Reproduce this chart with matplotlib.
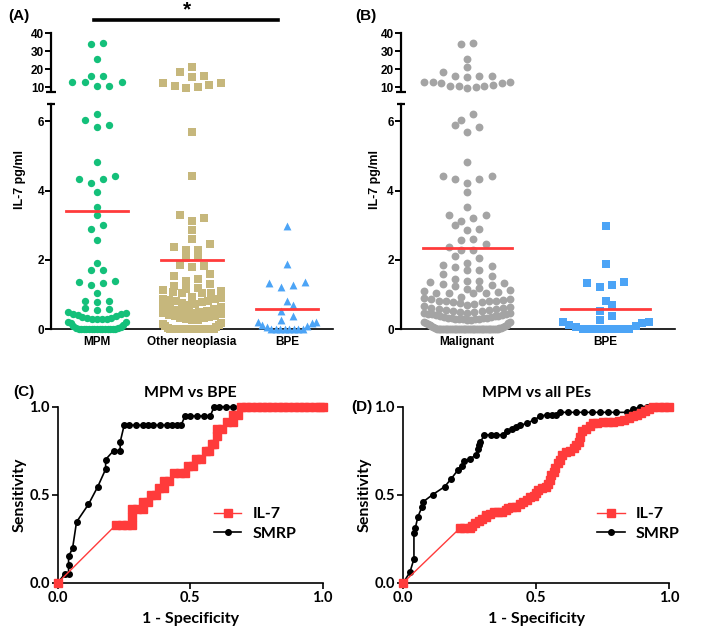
import numpy as np
import matplotlib
matplotlib.use("Agg")
import matplotlib.pyplot as plt
from matplotlib.lines import Line2D

# IL-7 values (pg/ml)
mpm_il7 = [34.0, 34.5, 25.5, 16.0, 16.3, 13.0, 13.0, 13.1, 10.4, 10.4,
           6.20, 6.03, 5.84, 5.88, 4.83, 4.23, 4.33, 4.33, 4.42, 3.95, 3.52, 3.30,
           2.90, 3.00, 2.58, 1.92, 1.70, 1.70, 1.27, 1.33, 1.35, 1.40, 1.04,
           0.78, 0.80, 0.82, 0.55, 0.57, 0.62,
           0.28, 0.28, 0.29, 0.30, 0.31, 0.33, 0.36, 0.38, 0.40, 0.42, 0.43, 0.45, 0.48,
           0, 0, 0, 0, 0, 0, 0, 0, 0, 0, 0, 0, 0, 0, 0,
           0.02, 0.04, 0.07, 0.10, 0.13, 0.16, 0.19, 0.20]
other_il7 = [21.4, 18.5, 16.2, 15.8, 12.5, 12.2, 11.0, 10.8, 10.2, 9.5,
             5.69, 4.42, 3.12, 3.20, 3.28, 2.85, 2.60, 2.28, 2.28, 2.38, 2.46, 2.05, 2.10,
             1.80, 1.83, 1.86, 1.40, 1.45, 1.52, 1.60, 1.16, 1.18, 1.23, 1.30,
             0.93, 1.03, 1.05, 1.05, 1.07, 1.10, 1.12,
             0.70, 0.72, 0.75, 0.78, 0.80, 0.82, 0.84, 0.86, 0.88, 0.90,
             0.47, 0.49, 0.51, 0.53, 0.55, 0.58, 0.61, 0.64, 0.66,
             0.25, 0.27, 0.29, 0.31, 0.33, 0.35, 0.37, 0.39, 0.41, 0.43, 0.45,
             0, 0, 0, 0, 0, 0, 0, 0, 0, 0, 0, 0, 0, 0, 0, 0, 0, 0, 0, 0,
             0.03, 0.06, 0.09, 0.12, 0.15, 0.18]
bpe_il7 = [2.97, 1.87, 1.22, 1.27, 1.32, 1.37, 0.80, 0.53, 0.70, 0.25, 0.37,
           0, 0, 0, 0, 0, 0, 0, 0, 0.06, 0.10, 0.13, 0.17, 0.19, 0.20]
malignant_il7 = mpm_il7 + other_il7

groups_a = ["MPM", "Other neoplasia", "BPE"]
means_a = [3.42, 1.98, 0.58]
groups_b = ["Malignant", "BPE"]
means_b = [2.33, 0.57]

# ROC points (1 - specificity, sensitivity)
c_il7_x = [0.00, 0.22, 0.24, 0.26, 0.28, 0.28, 0.28, 0.30, 0.32, 0.32, 0.34, 0.35, 0.37,
           0.38, 0.40, 0.40, 0.42, 0.44, 0.46, 0.48, 0.49, 0.51, 0.52, 0.54, 0.56, 0.57,
           0.58, 0.59, 0.60, 0.60, 0.62, 0.64, 0.66, 0.66, 0.68, 0.69, 0.71, 0.73, 0.75,
           0.77, 0.79, 0.81, 0.83, 0.85, 0.87, 0.89, 0.91, 0.93, 0.95, 0.97, 0.99, 1.00]
c_il7_y = [0.00, 0.33, 0.33, 0.33, 0.33, 0.375, 0.42, 0.42, 0.42, 0.46, 0.46, 0.50, 0.50,
           0.54, 0.54, 0.58, 0.58, 0.625, 0.625, 0.625, 0.665, 0.665, 0.705, 0.705, 0.75, 0.75,
           0.79, 0.79, 0.835, 0.875, 0.875, 0.915, 0.915, 0.955, 0.955, 1.0, 1.0, 1.0, 1.0,
           1.0, 1.0, 1.0, 1.0, 1.0, 1.0, 1.0, 1.0, 1.0, 1.0, 1.0, 1.0, 1.0]
c_smrp_x = [0.00, 0.025, 0.04, 0.04, 0.04, 0.055, 0.07, 0.115, 0.15, 0.18, 0.18, 0.21, 0.235,
            0.235, 0.25, 0.27, 0.295, 0.32, 0.34, 0.36, 0.385, 0.41, 0.43, 0.45, 0.465,
            0.48, 0.50, 0.525, 0.55, 0.575, 0.59, 0.61, 0.635, 0.66, 0.685, 0.71, 0.80, 0.90, 1.00]
c_smrp_y = [0.00, 0.05, 0.05, 0.10, 0.15, 0.195, 0.345, 0.445, 0.545, 0.645, 0.70, 0.75, 0.75,
            0.80, 0.895, 0.895, 0.895, 0.895, 0.895, 0.895, 0.895, 0.895, 0.895, 0.895, 0.895,
            0.947, 0.947, 0.947, 0.947, 0.947, 1.0, 1.0, 1.0, 1.0, 1.0, 1.0, 1.0, 1.0, 1.0]
d_il7_x = [0.00, 0.213, 0.23, 0.25, 0.26, 0.27, 0.285, 0.295, 0.31, 0.31, 0.325, 0.34, 0.355,
           0.37, 0.385, 0.395, 0.41, 0.425, 0.44, 0.45, 0.465, 0.475, 0.49, 0.50, 0.505, 0.52,
           0.535, 0.545, 0.55, 0.555, 0.565, 0.57, 0.58, 0.59, 0.595, 0.61, 0.625, 0.64, 0.65,
           0.66, 0.665, 0.67, 0.685, 0.70, 0.715, 0.73, 0.75, 0.77, 0.79, 0.81, 0.83, 0.85,
           0.865, 0.88, 0.895, 0.91, 0.925, 0.94, 0.96, 0.98, 1.00]
d_il7_y = [0.00, 0.31, 0.31, 0.31, 0.325, 0.34, 0.35, 0.36, 0.375, 0.385, 0.39, 0.40, 0.40,
           0.40, 0.415, 0.425, 0.43, 0.43, 0.445, 0.46, 0.47, 0.485, 0.49, 0.51, 0.525, 0.54,
           0.545, 0.56, 0.585, 0.61, 0.63, 0.65, 0.68, 0.70, 0.725, 0.74, 0.75, 0.765, 0.78,
           0.80, 0.83, 0.86, 0.875, 0.89, 0.905, 0.91, 0.915, 0.915, 0.915, 0.92, 0.925, 0.935,
           0.945, 0.955, 0.965, 0.975, 0.985, 1.0, 1.0, 1.0, 1.0]
d_smrp_x = [0.00, 0.025, 0.04, 0.04, 0.045, 0.055, 0.07, 0.075, 0.11, 0.155, 0.18, 0.205, 0.22,
            0.23, 0.25, 0.275, 0.28, 0.285, 0.29, 0.305, 0.33, 0.35, 0.375, 0.39, 0.41, 0.425,
            0.44, 0.465, 0.49, 0.515, 0.54, 0.56, 0.575, 0.59, 0.62, 0.65, 0.68, 0.71, 0.74,
            0.77, 0.80, 0.84, 0.865, 0.89, 0.915, 0.94]
d_smrp_y = [0.00, 0.06, 0.135, 0.28, 0.31, 0.375, 0.43, 0.46, 0.50, 0.545, 0.59, 0.64, 0.665,
            0.69, 0.705, 0.725, 0.76, 0.78, 0.80, 0.84, 0.84, 0.84, 0.84, 0.86, 0.875, 0.885,
            0.895, 0.905, 0.925, 0.945, 0.955, 0.955, 0.955, 0.968, 0.968, 0.968, 0.968, 0.968,
            0.968, 0.968, 0.968, 0.968, 0.985, 1.0, 1.0, 1.0]

green = "#14c07a"
tan = "#c6b77c"
blue = "#4ca4f6"
gray = "#a4a4a4"
red = "#ff3b3b"
prism = "Liberation Sans"
roc_font = "Lato"

W, H = 709, 638
fig = plt.figure(figsize=(W / 100, H / 100), dpi=100)


def box(l, t, r, b):
    return [l / W, 1 - b / H, (r - l) / W, (b - t) / H]


def swarm(ax, center, vals, half_px, row_px=7.0, step_px=12.3):
    # prism-like layout: close values share a row, spread out from the middle
    vals = sorted(vals)
    pts = ax.transData.transform([(center, v) for v in vals])
    cx, ys = pts[0, 0], pts[:, 1]
    xs = []
    i = 0
    while i < len(vals):
        j = i
        while j < len(vals) and ys[j] - ys[i] < row_px:
            j += 1
        n = j - i
        step = step_px if n == 1 else min(step_px, 2 * half_px / (n - 1))
        for k in range(n):
            if n % 2:
                off = 0 if k == 0 else ((k + 1) // 2) * (1 if k % 2 else -1)
            else:
                off = (k // 2 + 0.5) * (-1 if k % 2 == 0 else 1)
            xs.append(cx + off * step)
        i = j
    back = ax.transData.inverted().transform(np.column_stack([xs, ys]))
    return back[:, 0], vals


def style_dot_axes(lo, hi, xlim, names):
    for ax in (lo, hi):
        ax.set_xlim(*xlim)
        for s in ("top", "right"):
            ax.spines[s].set_visible(False)
        ax.spines["left"].set_linewidth(1.6)
        ax.tick_params(axis="y", length=4, width=1.4, pad=1, labelsize=8.5)
    lo.set_ylim(0, 6.5)
    lo.set_yticks([0, 2, 4, 6])
    lo.spines["bottom"].set_linewidth(1.2)
    lo.set_xticks(range(len(names)))
    lo.set_xticklabels(names, fontsize=8.5, fontweight="bold", family=prism)
    lo.tick_params(axis="x", length=2, width=1, pad=3)
    hi.set_ylim(7.5, 40)
    hi.set_yticks([10, 20, 30, 40])
    hi.spines["bottom"].set_visible(False)
    hi.set_xticks([])
    for ax in (lo, hi):
        for t in ax.get_yticklabels():
            t.set_fontweight("bold")
            t.set_fontfamily(prism)
        ax.patch.set_alpha(0)
    # break caps
    lo.plot([0], [1], marker="_", ms=6, mew=1.6, color="k", transform=lo.transAxes, clip_on=False)
    hi.plot([0], [0], marker="_", ms=7, mew=1.6, color="k", transform=hi.transAxes, clip_on=False)


def dots(lo, hi, center, vals, marker, color, size, half_px):
    low = [v for v in vals if v < 7.5]
    high = [v for v in vals if v >= 7.5]
    for ax, sub in ((lo, low), (hi, high)):
        if sub:
            x, y = swarm(ax, center, sub, half_px)
            ax.scatter(x, y, s=size, marker=marker, c=color, linewidths=0, clip_on=False, zorder=3)


# ---------- panel A ----------
axA = fig.add_axes(box(51, 104, 333, 329))
axA_hi = fig.add_axes(box(51, 33.5, 333, 91.5))
style_dot_axes(axA, axA_hi, (-0.484, 2.484), groups_a)
dots(axA, axA_hi, 0, mpm_il7, "o", green, 28, 29)
dots(axA, axA_hi, 1, other_il7, "s", tan, 28, 29)
dots(axA, axA_hi, 2, bpe_il7, "^", blue, 32, 29)
for i, m in enumerate(means_a):
    axA.plot([i - 0.33, i + 0.33], [m, m], color=red, lw=2, zorder=4)

# ---------- panel B ----------
axB = fig.add_axes(box(400.7, 104, 675, 329))
axB_hi = fig.add_axes(box(400.7, 33.5, 675, 91.5))
style_dot_axes(axB, axB_hi, (-0.48, 1.5), groups_b)
dots(axB, axB_hi, 0, malignant_il7, "o", gray, 32, 43)
dots(axB, axB_hi, 1, bpe_il7, "s", blue, 28, 43)
for i, m in enumerate(means_b):
    axB.plot([i - 0.32, i + 0.32], [m, m], color=red, lw=2, zorder=4)

for x in (20, 375):
    fig.text(x / W, 1 - 180 / H, "IL-7 pg/ml", rotation=90, ha="center", va="center",
             fontsize=9, fontweight="bold", family=prism)

# significance bar
fig.add_artist(Line2D([94 / W, 278 / W], [1 - 20 / H, 1 - 20 / H], color="k", lw=2.6))
fig.text(187 / W, 1 - 10 / H, "*", ha="center", va="center", fontsize=15, fontweight="bold", family=prism)


# ---------- ROC panels ----------
def roc(ax, title, il7x, il7y, smx, smy, leg_x):
    ax.plot(smx, smy, "-o", color="k", ms=4, lw=1.2, clip_on=False, zorder=3, label="SMRP")
    ax.plot(il7x, il7y, "-s", color=red, ms=5.5, lw=1, clip_on=False, zorder=4, label="IL-7")
    ax.set_xlim(0, 1)
    ax.set_ylim(0, 1)
    ax.set_xticks([0, 0.5, 1.0])
    ax.set_yticks([0, 0.5, 1.0])
    ax.set_xticklabels(["0.0", "0.5", "1.0"])
    ax.set_yticklabels(["0.0", "0.5", "1.0"])
    for s in ("top", "right"):
        ax.spines[s].set_visible(False)
    for s in ("left", "bottom"):
        ax.spines[s].set_linewidth(1.2)
    ax.tick_params(length=4, width=1.2, pad=2, labelsize=10.5)
    for t in ax.get_xticklabels() + ax.get_yticklabels():
        t.set_fontfamily(roc_font)
        t.set_fontweight("bold")
    ax.set_title(title, fontsize=11.5, fontweight="bold", family=roc_font, pad=7)
    ax.set_xlabel("1 - Specificity", fontsize=11.5, fontweight="bold", family=roc_font, labelpad=5)
    ax.set_ylabel("Sensitivity", fontsize=11.5, fontweight="bold", family=roc_font, labelpad=2)
    h, l = ax.get_legend_handles_labels()
    ax.legend(h[::-1], l[::-1], loc="upper left", bbox_to_anchor=(leg_x, 0.43), frameon=False,
              handlelength=1.7, handletextpad=0.7, borderpad=0, borderaxespad=0, labelspacing=0.35,
              prop={"family": roc_font, "size": 11.5, "weight": "bold"})


axC = fig.add_axes(box(58, 406.7, 322.7, 582.7))
roc(axC, "MPM vs BPE", c_il7_x, c_il7_y, c_smrp_x, c_smrp_y, 0.59)
axD = fig.add_axes(box(403.3, 406.7, 669.3, 582.7))
roc(axD, "MPM vs all PEs", d_il7_x, d_il7_y, d_smrp_x, d_smrp_y, 0.73)

for x, y, s in ((8, 16, "(A)"), (355, 16, "(B)"), (13, 392, "(C)"), (351, 407, "(D)")):
    fig.text(x / W, 1 - y / H, s, ha="left", va="center", fontsize=11, fontweight="bold", family=prism)

fig.savefig("out.png", dpi=100)
